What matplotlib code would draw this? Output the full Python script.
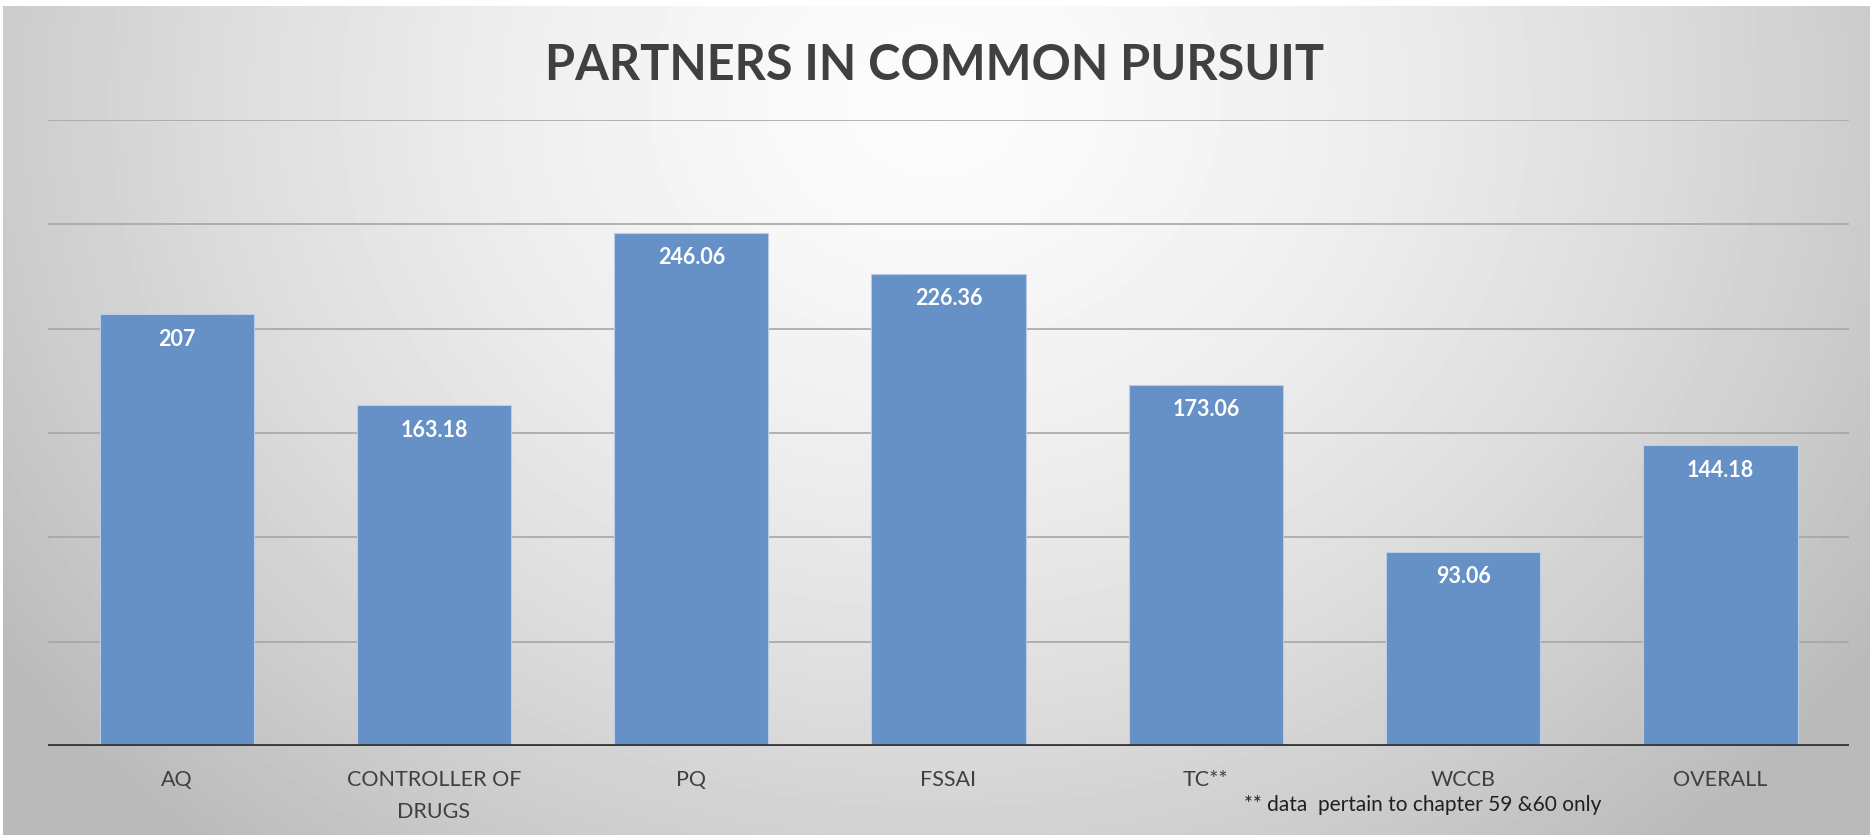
import matplotlib
matplotlib.use("Agg")
import matplotlib.pyplot as plt
import numpy as np

categories = ["AQ", "CONTROLLER OF\nDRUGS", "PQ", "FSSAI", "TC**", "WCCB", "OVERALL"]
values = [207, 163.18, 246.06, 226.36, 173.06, 93.06, 144.18]
value_labels = ["207", "163.18", "246.06", "226.36", "173.06", "93.06", "144.18"]
grid_values = [50, 100, 150, 200, 250, 300]

title = "PARTNERS IN COMMON PURSUIT"
footnote = "** data  pertain to chapter 59 &60 only"

plt.rcParams["font.family"] = ["Lato", "DejaVu Sans"]

fig = plt.figure(figsize=(18.70, 8.35), dpi=100)

# radial grey background
bg = fig.add_axes([0, 0, 1, 1], zorder=-10)
h, w = 835, 1870
yy, xx = np.mgrid[0:h, 0:w]
xn = xx / w
yn = yy / h
d = np.sqrt(((xn - 0.5) / 0.6) ** 2 + ((yn - 0.12) / 1.15) ** 2)
shade = np.clip(0.985 - 0.25 * d ** 1.6, 0.73, 1.0)
shade[:6, :] = 1.0
shade[:, :3] = 1.0
bg.imshow(shade, cmap="gray", vmin=0, vmax=1, aspect="auto", interpolation="bilinear")
bg.axis("off")

ax = fig.add_axes([0.0257, 0.1066, 0.9631, 0.7497])
ax.patch.set_alpha(0)
x = np.arange(len(categories))
bars = ax.bar(x, values, width=0.6, color="#6691c6", edgecolor="#b9cde8", linewidth=0.8, zorder=2)

for gv in grid_values:
    ax.axhline(gv, color="#a6a6a6", linewidth=1.2, zorder=1)
ax.axhline(0, color="#3a3a3a", linewidth=3.5, zorder=3)

for b, lab in zip(bars, value_labels):
    ax.annotate(lab, (b.get_x() + b.get_width() / 2, b.get_height()), xytext=(0, -18),
                textcoords="offset points", ha="center", va="center",
                color="white", fontsize=15.5, fontweight="bold", zorder=4)

ax.set_xlim(-0.5, len(categories) - 0.5)
ax.set_ylim(0, 300)
ax.set_yticks([])
ax.set_xticks(x)
ax.set_xticklabels(categories, fontsize=15.5, color="#404040", linespacing=1.75)
ax.tick_params(axis="x", length=0, pad=17)
for s in ax.spines.values():
    s.set_visible(False)

fig.text(0.5, 0.922, title, ha="center", va="center", fontsize=35, fontweight="bold", color="#404040")
fig.text(0.6652, 0.036, footnote, ha="left", va="center", fontsize=15, color="#202020")

fig.savefig("out.png", dpi=100)
